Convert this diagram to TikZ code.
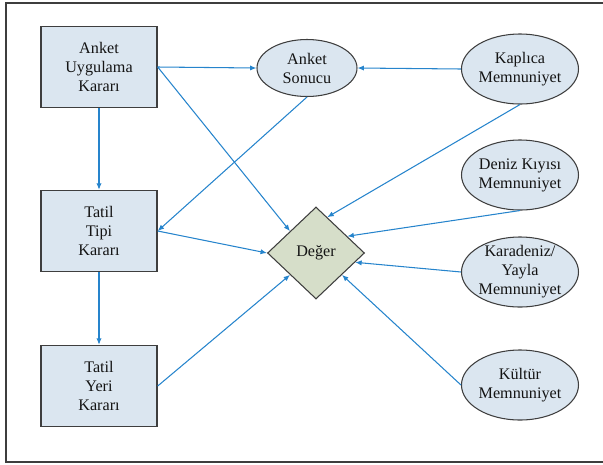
\documentclass[tikz,border=0pt]{standalone}
\usepackage{fontspec}
\setmainfont{Liberation Serif}
\usetikzlibrary{shapes.geometric,arrows.meta,calc}
\definecolor{kutumavi}{RGB}{219,230,240}
\definecolor{degeryesil}{RGB}{214,222,201}
\definecolor{okmavi}{RGB}{38,132,204}
\definecolor{cizgi}{RGB}{62,62,62}

\begin{document}
\begin{tikzpicture}[x=0.03cm,y=-0.03cm,
    yazi/.style={align=center,text=black!92,font=\fontsize{13.8}{16.2}\selectfont},
    kutu/.style={yazi,draw=cizgi,line width=1.2pt,fill=kutumavi,minimum width=3.48cm,minimum height=2.43cm},
    oval/.style={yazi,ellipse,draw=cizgi,line width=0.9pt,fill=kutumavi,inner sep=0pt,minimum width=3.51cm,minimum height=2.1cm},
    ok/.style={draw=okmavi,line width=0.9pt,-{Latex[length=5.5pt,width=4.5pt]}}]
    \useasboundingbox (0,0) rectangle (603,464);
    \draw[cizgi,line width=0.9pt] (603,3)--(6,3)--(6,462)--(603,462);
    % kararlar
    \node[kutu] (uyg) at (99,67) {Anket\\Uygulama\\Kararı};
    \node[kutu] (tip) at (99,231) {Tatil\\Tipi\\Kararı};
    \node[kutu] (yer) at (99,386) {Tatil\\Yeri\\Kararı};
    \node[oval,minimum width=3cm,minimum height=1.71cm] (sonuc) at (307,68) {Anket\\Sonucu};
    \node[yazi,diamond,draw=cizgi,line width=0.9pt,fill=degeryesil,inner sep=0pt,minimum width=2.91cm,minimum height=2.76cm] (deg) at (316,253) {Değer};
    % memnuniyetler
    \node[oval] (kap) at (520,69) {Kaplıca\\Memnuniyet};
    \node[oval] (den) at (520,175) {Deniz Kıyısı\\Memnuniyet};
    \node[oval,label={[yazi]center:{Karadeniz/\\Yayla\\Memnuniyet}}] (kar) at (520,272) {};
    \node[oval] (kul) at (520,385) {Kültür\\Memnuniyet};
    % oklar
    \draw[ok] (uyg.east)--(sonuc.west);
    \draw[ok] (uyg.east)--($(deg.west)!0.47!(deg.north)$);
    \draw[ok] (uyg.south)--(tip.north);
    \draw[ok] (tip.south)--(yer.north);
    \draw[ok] (sonuc.south)--(tip.east);
    \draw[ok] (tip.east)--(deg.west);
    \draw[ok] (yer.east)--($(deg.west)!0.47!(deg.south)$);
    \draw[ok] (kap.west)--(sonuc.east);
    \draw[ok] (kap.south)--($(deg.north)!0.23!(deg.east)$);
    \draw[ok] (den.south)--($(deg.north)!0.64!(deg.east)$);
    \draw[ok] (kar.west)--($(deg.east)!0.2!(deg.south)$);
    \draw[ok] (kul.west)--($(deg.east)!0.47!(deg.south)$);
\end{tikzpicture}
\end{document}
